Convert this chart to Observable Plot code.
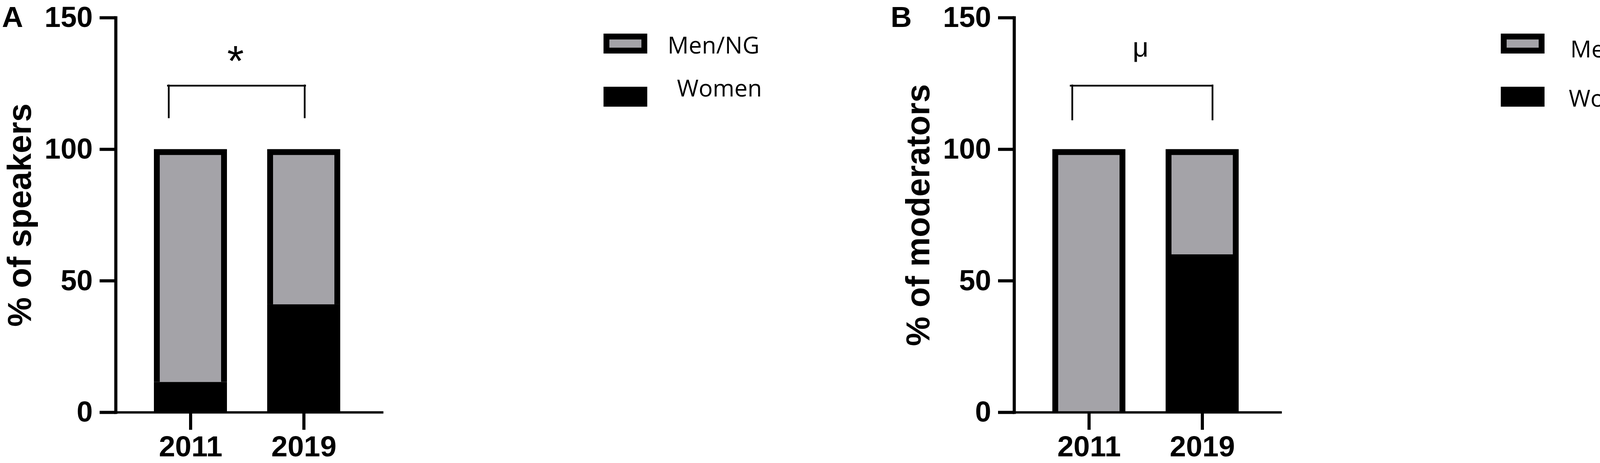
<!DOCTYPE html>
<html>
<head>
<meta charset="utf-8">
<script src="https://cdn.jsdelivr.net/npm/d3@7"></script>
<script src="https://cdn.jsdelivr.net/npm/@observablehq/plot@0.6"></script>
<style>
  html, body { margin: 0; padding: 0; background: #fff; }
  #page { position: relative; width: 4319px; height: 1185px; overflow: hidden; background: #fff; }
  .panel { position: absolute; top: 0; height: 1185px; }
  .panel svg { position: absolute; left: 0; top: 0; }
  .letter { position: absolute; font-family: "Liberation Sans", Arial, sans-serif; font-weight: bold; font-size: 75px; line-height: 1; color: #000; }
  .sw { position: absolute; width: 112px; height: 51px; box-sizing: border-box; }
  .lt { position: absolute; font-family: "Open Sans", Lato, sans-serif; font-size: 60px; line-height: 1; color: #000; white-space: nowrap; width: max-content; }
</style>
</head>
<body>
<div id="page"></div>
<script>
// ---- data ----
const years = ["2011", "2019"];
const groups = ["Women", "Men/NG"];
const speakersWomen = [11.5, 41];
const speakersMen = [88.5, 59];
const moderatorsWomen = [0, 60];
const moderatorsMen = [100, 40];
const yTicks = [0, 50, 100, 150];
const panelLetters = ["A", "B"];
const yLabels = ["% of speakers", "% of moderators"];
const sigLabels = ["*", "μ"];
const bracketHigh = 124.2;
const bracketLows = [112.1, 111.3];

const gray = "#a4a3a8";

function makeRows(women, men) {
  return years.flatMap((yr, i) => [
    {year: yr, group: "Women", value: women[i]},
    {year: yr, group: "Men/NG", value: men[i]}
  ]);
}

function makePanel(rows, ylabel, sig, low, o) {
  return Plot.plot({
    width: 1000,
    height: 1185,
    marginLeft: 296,
    marginRight: 22,
    marginTop: 45,
    marginBottom: 130,
    x: {domain: years, paddingInner: 0.354, paddingOuter: 0.349, align: 0.48, label: null},
    y: {domain: [0, 150], label: null},
    color: {domain: ["Men/NG", "Women"], range: [gray, "#000"]},
    style: {fontFamily: "'Liberation Sans', Arial, sans-serif", background: "transparent", overflow: "visible", color: "#000"},
    marks: [
      // outer black frame of each bar
      Plot.barY(rows, Plot.stackY({x: "year", y: "value", z: "group", order: groups, fill: "#000"})),
      // inner fills
      Plot.barY(rows, Plot.stackY({x: "year", y: "value", z: "group", order: groups, fill: "group", insetLeft: 15, insetRight: 15, insetTop: 15})),
      Plot.frame({anchor: "left", strokeWidth: 8}),
      Plot.frame({anchor: "bottom", strokeWidth: 6}),
      Plot.axisY({ticks: yTicks, tickSize: 41, tickPadding: 18, strokeWidth: 8, fontSize: 74, fontWeight: "bold", label: null}),
      Plot.axisX({tickSize: 45, tickPadding: 14, strokeWidth: 8, fontSize: 75, fontWeight: "bold", label: null}),
      Plot.text([ylabel], {frameAnchor: "left", textAnchor: "middle", rotate: -90, dx: -245, fontSize: 85, fontWeight: "bold", lineAnchor: "middle"}),
      // significance bracket
      Plot.ruleY([bracketHigh], {y: d => d, x1: () => years[0], x2: () => years[1], insetLeft: o.inL, insetRight: o.inR, strokeWidth: 4.5, strokeLinecap: "square"}),
      Plot.ruleX([years[0]], {x: d => d, y1: () => low, y2: () => bracketHigh, dx: o.legL, strokeWidth: 4.5, strokeLinecap: "square"}),
      Plot.ruleX([years[1]], {x: d => d, y1: () => low, y2: () => bracketHigh, dx: o.legR, strokeWidth: 4.5, strokeLinecap: "square"}),
      Plot.text([sig], {x: () => years[0], y: () => o.sigY, text: d => d, dx: o.sigDx, fontSize: o.sigSize, fontWeight: "normal", lineAnchor: "middle"})
    ]
  });
}

const page = document.getElementById("page");

const panels = [
  {left: 0, width: 2300, rows: makeRows(speakersWomen, speakersMen),
   opts: {inL: 36, inR: 90, legL: -56, legR: 2, sigDx: 115, sigY: 133.3, sigSize: 110},
   letterLeft: 5, legend: {sw: 1545, men: 1709, menTop: 84, women: 1733, womenTop: 194}},
  {left: 2300, width: 2019, rows: makeRows(moderatorsWomen, moderatorsMen),
   opts: {inL: 47, inR: 69, legL: -43, legR: 26, sigDx: 132, sigY: 138.6, sigSize: 71},
   letterLeft: -20, legend: {sw: 1542, men: 1720, menTop: 94, women: 1716, womenTop: 220}}
];

panels.forEach((p, i) => {
  const div = document.createElement("div");
  div.className = "panel";
  div.style.left = p.left + "px";
  div.style.width = p.width + "px";
  div.appendChild(makePanel(p.rows, yLabels[i], sigLabels[i], bracketLows[i], p.opts));

  const letter = document.createElement("div");
  letter.className = "letter";
  letter.textContent = panelLetters[i];
  letter.style.left = p.letterLeft + "px";
  letter.style.top = "6px";
  div.appendChild(letter);

  // legend
  const swMen = document.createElement("div");
  swMen.className = "sw";
  swMen.style.left = p.legend.sw + "px";
  swMen.style.top = "86px";
  swMen.style.background = gray;
  swMen.style.border = "15px solid #000";
  div.appendChild(swMen);

  const swWomen = document.createElement("div");
  swWomen.className = "sw";
  swWomen.style.left = p.legend.sw + "px";
  swWomen.style.top = "222px";
  swWomen.style.background = "#000";
  div.appendChild(swWomen);

  const tMen = document.createElement("div");
  tMen.className = "lt";
  tMen.textContent = groups[1];
  tMen.style.left = p.legend.men + "px";
  tMen.style.top = p.legend.menTop + "px";
  div.appendChild(tMen);

  const tWomen = document.createElement("div");
  tWomen.className = "lt";
  tWomen.textContent = groups[0];
  tWomen.style.left = p.legend.women + "px";
  tWomen.style.top = p.legend.womenTop + "px";
  div.appendChild(tWomen);

  page.appendChild(div);
});
</script>
</body>
</html>
